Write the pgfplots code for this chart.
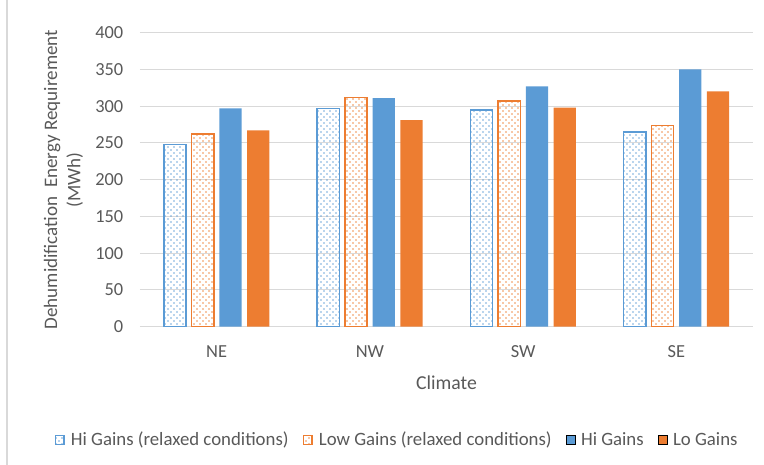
\documentclass[border=0pt]{standalone}
\usepackage{pgfplots}
\pgfplotsset{compat=1.18}
\usepackage{fontspec}
\setmainfont{Carlito}
\usetikzlibrary{patterns}

\definecolor{xlblue}{HTML}{5B9BD5}
\definecolor{xlorange}{HTML}{ED7D31}
\definecolor{xltext}{HTML}{595959}
\definecolor{xlgrid}{HTML}{D9D9D9}

% sparse staggered dot fill used for the relaxed-condition series
\pgfdeclarepatternformonly{sdots}{\pgfqpoint{0pt}{0pt}}{\pgfqpoint{4.4pt}{4.4pt}}{\pgfqpoint{4.4pt}{4.4pt}}{
  \pgfpathrectangle{\pgfqpoint{0.3pt}{0.3pt}}{\pgfqpoint{1.0pt}{1.0pt}}
  \pgfpathrectangle{\pgfqpoint{2.5pt}{2.5pt}}{\pgfqpoint{1.0pt}{1.0pt}}
  \pgfusepath{fill}
}

\pgfplotstableread{
x  hirel lorel hi  lo
0  248   262   297 267
1  297   312   311 281
2  295   307   327 298
3  265   274   350 320
}\energy

\begin{document}
\begin{tikzpicture}
\path[use as bounding box] (-105pt,-103.7pt) rectangle (468pt,245pt);
\draw[xlgrid, line width=0.8pt] (-99.75pt,-103.7pt) -- (-99.75pt,245pt);
\begin{axis}[
  at={(0,0)}, anchor=south west,
  scale only axis,
  width=459.75pt, height=220.5pt,
  ybar=4.2pt, bar width=16.6pt,
  xmin=-0.5, xmax=3.5,
  ymin=0, ymax=400,
  ytick={0,50,...,400},
  xtick=data,
  xticklabels={NE,NW,SW,SE},
  major tick length=0pt,
  axis x line*=bottom,
  axis y line*=left,
  x axis line style={xlgrid, line width=0.8pt},
  y axis line style={draw=none},
  ymajorgrids,
  grid style={xlgrid, line width=0.8pt},
  /pgf/number format/assume math mode=true,
  tick label style={font=\fontsize{13.8}{15}\selectfont, text=xltext},
  yticklabel style={xshift=-9pt},
  xticklabel style={yshift=-11pt},
  xlabel={Climate},
  xlabel style={at={(axis description cs:0.5,-0.19)}, anchor=center, font=\fontsize{14.8}{17}\selectfont, text=xltext},
  ylabel={Dehumidification\ \ Energy Requirement\\[1pt](MWh)},
  ylabel style={at={(axis description cs:-0.125,0.5)}, anchor=center, align=center, font=\fontsize{14.3}{16.5}\selectfont, text=xltext},
  legend columns=4,
  legend style={
    at={(axis description cs:0.42,-0.385)}, anchor=center,
    draw=none, font=\fontsize{14.1}{15}\selectfont, text=xltext,
    /tikz/every even column/.append style={column sep=8.5pt},
    /tikz/every odd column/.append style={column sep=2.5pt},
    inner sep=0pt,
  },
  legend image code/.code={\draw[#1] (0pt,-3.3pt) rectangle (6.6pt,3.3pt);},
]
\addplot[draw=xlblue, line width=1.1pt, pattern=sdots, pattern color=xlblue] table[x=x, y=hirel] {\energy};
\addplot[draw=xlorange, line width=1.1pt, pattern=sdots, pattern color=xlorange] table[x=x, y=lorel] {\energy};
\addplot[draw=none, fill=xlblue] table[x=x, y=hi] {\energy};
\addplot[draw=none, fill=xlorange] table[x=x, y=lo] {\energy};
\legend{Hi Gains (relaxed conditions), Low Gains (relaxed conditions), Hi Gains, Lo Gains}
\end{axis}
\end{tikzpicture}
\end{document}
